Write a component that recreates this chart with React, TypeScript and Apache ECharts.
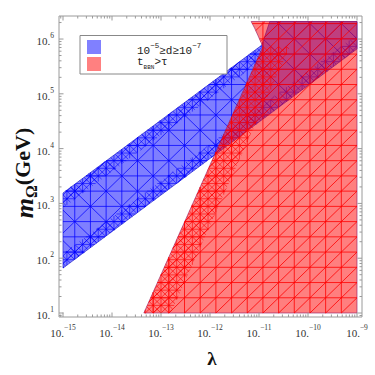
import React, { useEffect, useRef } from 'react';
import * as echarts from 'echarts';

// Axis extents in log10 units
const xMinExp = -15;
const xMaxExp = -9;
const yMinExp = 1;
const yMaxExp = 6.32;
const xMajorExps = [-15, -14, -13, -12, -11, -10, -9];
const yMajorExps = [1, 2, 3, 4, 5, 6];
const minorMultipliers = [2, 3, 4, 5, 6, 7, 8, 9];

// Blue region: 10^-5 >= d >= 10^-7  (log10 λ, log10 mΩ)
const blueLogLambda = [-15, -15, -10.94, -10.78, -9, -9];
const blueLogMass = [1.82, 3.19, 5.89, 6.32, 6.32, 5.82];
// refined-mesh strips along the blue edges
const blueUpperStripLambda = [-15, -10.94, -10.94, -15];
const blueUpperStripMass = [3.19, 5.89, 5.62, 2.92];
const blueLowerStripLambda = [-15, -9, -9, -15];
const blueLowerStripMass = [1.82, 5.82, 6.08, 2.08];

// Red region: t_BBN > τ
const redLogLambda = [-13.35, -9, -9, -11.16, -11.09, -11.02, -10.96, -10.92];
const redLogMass = [1, 1, 6.32, 6.32, 6.2, 6.06, 5.94, 5.86];
const redStripLambda = [-13.35, -12.8, -10.37, -10.92];
const redStripMass = [1, 1, 5.86, 5.86];

// mesh cell size (log10 units)
const meshDx = 0.32;
const meshDy = 0.278;

const GRID = { left: 63, right: 18, top: 21.5, bottom: 62 };
const PAD = { left: 4, right: 5, top: 5.5, bottom: 4 };
const FRAME_COLOR = '#9a9a9a';

type P = number[];

function inside(pt: P, poly: P[]) {
  let c = false;
  for (let i = 0, j = poly.length - 1; i < poly.length; j = i++) {
    const xi = poly[i][0], yi = poly[i][1], xj = poly[j][0], yj = poly[j][1];
    if ((yi > pt[1]) !== (yj > pt[1]) && pt[0] < ((xj - xi) * (pt[1] - yi)) / (yj - yi) + xi) c = !c;
  }
  return c;
}

function clip(a: P, b: P, poly: P[]): P[][] {
  const ts = [0, 1];
  const rx = b[0] - a[0], ry = b[1] - a[1];
  for (let i = 0; i < poly.length; i++) {
    const p = poly[i], q = poly[(i + 1) % poly.length];
    const sx = q[0] - p[0], sy = q[1] - p[1];
    const den = rx * sy - ry * sx;
    if (Math.abs(den) < 1e-12) continue;
    const t = ((p[0] - a[0]) * sy - (p[1] - a[1]) * sx) / den;
    const u = ((p[0] - a[0]) * ry - (p[1] - a[1]) * rx) / den;
    if (t > 0 && t < 1 && u >= 0 && u <= 1) ts.push(t);
  }
  ts.sort((m, n) => m - n);
  const out: P[][] = [];
  for (let i = 0; i < ts.length - 1; i++) {
    const t0 = ts[i], t1 = ts[i + 1];
    if (t1 - t0 < 1e-9) continue;
    const tm = (t0 + t1) / 2;
    if (inside([a[0] + rx * tm, a[1] + ry * tm], poly)) {
      out.push([
        [a[0] + rx * t0, a[1] + ry * t0],
        [a[0] + rx * t1, a[1] + ry * t1],
      ]);
    }
  }
  return out;
}

// mesh lines in data (log) space
function meshLines(dx: number, dy: number, slashStep: number, backStep: number, slashOffset = 0, backOffset = 0) {
  const ox = xMaxExp, oy = yMinExp;
  const X0 = -15.6, X1 = -8.4, Y0 = 0.4, Y1 = 6.9;
  const lines: P[][] = [];
  for (let k = Math.ceil((X0 - ox) / dx); ox + k * dx <= X1; k++) lines.push([[ox + k * dx, Y0], [ox + k * dx, Y1]]);
  for (let k = Math.ceil((Y0 - oy) / dy); oy + k * dy <= Y1; k++) lines.push([[X0, oy + k * dy], [X1, oy + k * dy]]);
  const T = 60;
  const K = 140;
  if (slashStep > 0)
    for (let k = -K + slashOffset; k <= K; k += slashStep)
      lines.push([[ox + k * dx - T * dx, oy - T * dy], [ox + k * dx + T * dx, oy + T * dy]]);
  if (backStep > 0)
    for (let k = -K + backOffset; k <= K; k += backStep)
      lines.push([[ox + k * dx - T * dx, oy + T * dy], [ox + k * dx + T * dx, oy - T * dy]]);
  return lines;
}

function regionSeries(
  name: string,
  xs: number[],
  ys: number[],
  fill: string,
  edge: string,
  lineColor: string,
  meshes: { lines: P[][]; sx?: number[]; sy?: number[]; width: number }[],
  z: number
) {
  return {
    type: 'custom',
    name,
    coordinateSystem: 'cartesian2d',
    data: [[(xMinExp + xMaxExp) / 2, (yMinExp + yMaxExp) / 2]],
    z,
    silent: true,
    renderItem: (params: any, api: any) => {
      const poly: P[] = xs.map((x, i) => api.coord([x, ys[i]]));
      const children: any[] = [
        { type: 'polygon', shape: { points: poly }, style: { fill, stroke: edge, lineWidth: 0.8 } },
      ];
      meshes.forEach((m) => {
        const cp: P[] = m.sx ? m.sx.map((x, i) => api.coord([x, (m.sy as number[])[i]])) : poly;
        m.lines.forEach((ln) => {
          const a = api.coord(ln[0]);
          const b = api.coord(ln[1]);
          clip(a, b, cp).forEach((s) => {
            children.push({
              type: 'line',
              shape: { x1: s[0][0], y1: s[0][1], x2: s[1][0], y2: s[1][1] },
              style: { stroke: lineColor, lineWidth: m.width },
            });
          });
        });
      });
      return { type: 'group', children };
    },
  };
}

function minorList(from: number, to: number) {
  const out: number[] = [];
  for (let n = from; n <= to; n++) minorMultipliers.forEach((k) => out.push(n + Math.log10(k)));
  return out;
}

export default function App() {
  const ref = useRef<HTMLDivElement>(null);
  useEffect(() => {
    if (!ref.current) return;
    const chart = echarts.init(ref.current, undefined, { renderer: 'svg' });
    const serif = 'Liberation Serif';
    const mono = 'Liberation Mono';
    const labelRich = {
      b: { fontFamily: serif, fontSize: 11, color: '#333', lineHeight: 15, verticalAlign: 'bottom' },
      s: { fontFamily: serif, fontSize: 7.5, color: '#333', lineHeight: 9, verticalAlign: 'top' },
    };
    const fmt = (v: number) => {
      if (Math.abs(v - Math.round(v)) > 1e-6) return '';
      const e = Math.round(v);
      return `{b|10.}{s|${e < 0 ? '\u2212' + -e : e}}`;
    };

    const blueMain = meshLines(meshDx, meshDy, 2, 2, 0, 0);
    const blueFine = meshLines(meshDx / 2, meshDy / 2, 1, 1);
    const redMain = meshLines(meshDx, meshDy, 1, 0);
    const redFine = meshLines(meshDx / 2, meshDy / 2, 1, 1);

    const xMinor = minorList(-16, -10);
    const yMinor = minorList(0, 6);

    const option: any = {
      animation: false,
      grid: { left: GRID.left, right: GRID.right, top: GRID.top, bottom: GRID.bottom },
      xAxis: {
        type: 'value',
        min: xMinExp,
        max: xMaxExp,
        interval: 1,
        offset: PAD.bottom,
        axisLine: { show: false },
        axisTick: { show: false },
        splitLine: { show: false },
        axisLabel: { formatter: fmt, rich: labelRich, margin: 6, showMaxLabel: true, showMinLabel: true },
      },
      yAxis: {
        type: 'value',
        min: yMinExp,
        max: yMaxExp,
        interval: 1,
        offset: PAD.left,
        axisLine: { show: false },
        axisTick: { show: false },
        splitLine: { show: false },
        axisLabel: { formatter: fmt, rich: labelRich, margin: 5 },
      },
      series: [
        regionSeries(
          'blue',
          blueLogLambda,
          blueLogMass,
          'rgba(0,0,255,0.5)',
          'rgba(40,40,200,0.9)',
          'rgba(0,0,255,0.75)',
          [
            { lines: blueMain, width: 1 },
            { lines: blueFine, sx: blueUpperStripLambda, sy: blueUpperStripMass, width: 0.8 },
            { lines: blueFine, sx: blueLowerStripLambda, sy: blueLowerStripMass, width: 0.8 },
          ],
          2
        ),
        regionSeries(
          'red',
          redLogLambda,
          redLogMass,
          'rgba(255,0,0,0.5)',
          'rgba(150,30,100,0.8)',
          'rgba(255,0,0,0.8)',
          [
            { lines: redMain, width: 1 },
            { lines: redFine, sx: redStripLambda, sy: redStripMass, width: 0.8 },
          ],
          3
        ),
        {
          type: 'custom',
          name: 'frame',
          coordinateSystem: 'cartesian2d',
          data: [[(xMinExp + xMaxExp) / 2, (yMinExp + yMaxExp) / 2]],
          z: 10,
          silent: true,
          clip: false,
          renderItem: (params: any, api: any) => {
            const cs = params.coordSys;
            const fl = cs.x - PAD.left;
            const fr = cs.x + cs.width + PAD.right;
            const ft = cs.y - PAD.top;
            const fb = cs.y + cs.height + PAD.bottom;
            const ch: any[] = [
              {
                type: 'rect',
                shape: { x: fl, y: ft, width: fr - fl, height: fb - ft },
                style: { fill: 'none', stroke: FRAME_COLOR, lineWidth: 1 },
              },
            ];
            const st = { stroke: FRAME_COLOR, lineWidth: 1 };
            const addX = (e: number, len: number) => {
              const px = api.coord([e, yMinExp])[0];
              if (px <= fl + 0.5 || px >= fr - 0.5) return;
              ch.push({ type: 'line', shape: { x1: px, y1: fb, x2: px, y2: fb - len }, style: st });
              ch.push({ type: 'line', shape: { x1: px, y1: ft, x2: px, y2: ft + len }, style: st });
            };
            const addY = (e: number, len: number) => {
              const py = api.coord([xMinExp, e])[1];
              if (py <= ft + 0.5 || py >= fb - 0.5) return;
              ch.push({ type: 'line', shape: { x1: fl, y1: py, x2: fl + len, y2: py }, style: st });
              ch.push({ type: 'line', shape: { x1: fr, y1: py, x2: fr - len, y2: py }, style: st });
            };
            xMajorExps.forEach((e) => addX(e, 4.5));
            xMinor.forEach((e) => addX(e, 2.5));
            yMajorExps.forEach((e) => addY(e, 4.5));
            yMinor.forEach((e) => addY(e, 2.5));
            return { type: 'group', children: ch };
          },
        },
      ],
      graphic: [
        {
          type: 'rect',
          shape: { x: 80, y: 35.5, width: 147, height: 38.5 },
          style: { fill: '#fff', stroke: '#888', lineWidth: 1 },
          z: 20,
        },
        { type: 'rect', shape: { x: 87, y: 40, width: 14, height: 14 }, style: { fill: '#8080ff' }, z: 21 },
        { type: 'rect', shape: { x: 87, y: 57, width: 14, height: 14 }, style: { fill: '#ff8080' }, z: 21 },
        {
          type: 'text',
          x: 137,
          y: 49,
          z: 21,
          style: {
            text: '{m|10}{s|\u22125}{m|\u2265d\u226510}{s|\u22127}',
            verticalAlign: 'middle',
            rich: {
              m: { fontFamily: mono, fontSize: 11, fill: '#222', lineHeight: 14, verticalAlign: 'bottom' },
              s: { fontFamily: mono, fontSize: 7.5, fill: '#222', lineHeight: 9, verticalAlign: 'top' },
            },
          },
        },
        {
          type: 'text',
          x: 137,
          y: 63,
          z: 21,
          style: {
            text: '{m|t}{u|BBN}{m|>\u03c4}',
            verticalAlign: 'middle',
            rich: {
              m: { fontFamily: mono, fontSize: 11, fill: '#222', lineHeight: 14, verticalAlign: 'top' },
              u: { fontFamily: mono, fontSize: 6, fill: '#222', lineHeight: 8, verticalAlign: 'bottom' },
            },
          },
        },
        {
          type: 'text',
          x: 25,
          y: 173,
          rotation: Math.PI / 2,
          z: 21,
          style: {
            text: '{m|m}{o|\u03a9}{g|(GeV)}',
            align: 'center',
            verticalAlign: 'middle',
            rich: {
              m: { fontFamily: serif, fontSize: 26, fontWeight: 'bold', fontStyle: 'italic', fill: '#111', lineHeight: 28, verticalAlign: 'top' },
              o: { fontFamily: serif, fontSize: 16, fontWeight: 'bold', fill: '#111', lineHeight: 18, verticalAlign: 'bottom' },
              g: { fontFamily: serif, fontSize: 22, fontWeight: 'bold', fill: '#111', lineHeight: 28, verticalAlign: 'top' },
            },
          },
        },
        {
          type: 'text',
          x: 212,
          y: 358,
          z: 21,
          style: {
            text: '\u03bb',
            align: 'center',
            verticalAlign: 'middle',
            fontFamily: serif,
            fontSize: 19,
            fontWeight: 'bold',
            fill: '#111',
          },
        },
      ],
    };
    chart.setOption(option);
    return () => chart.dispose();
  }, []);
  return <div ref={ref} style={{ position: 'fixed', left: 0, top: 0, width: 375, height: 375, background: '#fff' }} />;
}
